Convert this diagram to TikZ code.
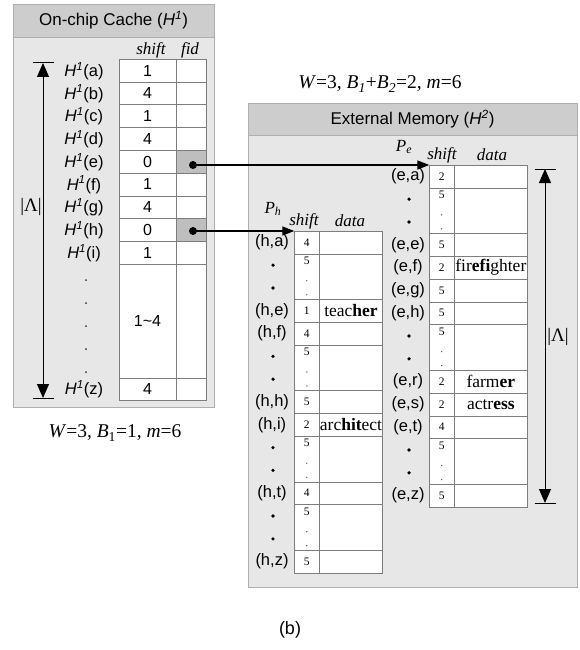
\documentclass[tikz,border=0pt]{standalone}
\usepackage{fontspec}
\setmainfont{Liberation Serif}
\setsansfont{Liberation Sans}
\usetikzlibrary{arrows.meta}
\definecolor{panelbg}{RGB}{231,231,231}
\definecolor{panelhd}{RGB}{205,205,205}
\definecolor{panelln}{RGB}{175,175,175}
\definecolor{tabln}{RGB}{125,125,125}
\definecolor{cellgray}{RGB}{190,190,190}
\newcommand\rh{22.8}
\newcommand\trow[4]{%
 \pgfmathsetmacro\yt{\tT+#1*\rh}%
 \pgfmathsetmacro\yc{\yt+\rh/2}%
 \node[lab] (\tP l#1) at (\tLab,\yc) {#2};%
 \node[scell, minimum width=\wS pt, minimum height=\rh pt] (\tP s#1) at (\tL,\yt) {#3};%
 \node[dcell, minimum width=\wD pt, minimum height=\rh pt] (\tP d#1) at (\tM,\yt) {#4};%
}
\newcommand\tmulti[1]{%
 \pgfmathsetmacro\yt{\tT+#1*\rh}%
 \node[scell, minimum width=\wS pt, minimum height=2*\rh pt] (\tP s#1) at (\tL,\yt) {};%
 \node[dcell, minimum width=\wD pt, minimum height=2*\rh pt] (\tP d#1) at (\tM,\yt) {};%
 \node[bulletdot] (\tP a#1) at (\tLab+1,\yt+\rh/2) {};%
 \node[bulletdot] (\tP b#1) at (\tLab+1,\yt+1.5*\rh) {};%
 \node[sval] (\tP f#1) at (\tL+\wS/2,\yt+7) {5};%
 \node[tinydot] (\tP g#1) at (\tL+\wS/2,\yt+27) {};%
 \node[tinydot] (\tP h#1) at (\tL+\wS/2,\yt+41) {};%
}
\tikzset{
 panel/.style={fill=panelbg, draw=panelln, line width=0.8pt, inner sep=0pt, outer sep=0pt, anchor=north west},
 phead/.style={fill=panelhd, draw=panelln, line width=0.8pt, inner sep=0pt, outer sep=0pt, anchor=north west,
   font=\sffamily\fontsize{17}{20}\selectfont},
 lab/.style={font=\sffamily\fontsize{16.5}{19}\selectfont, inner sep=0pt},
 colhd/.style={font=\itshape\fontsize{17}{20}\selectfont, inner sep=0pt},
 wlab/.style={font=\fontsize{19.5}{22}\selectfont, inner sep=0pt},
 lamlab/.style={font=\fontsize{19}{22}\selectfont, inner sep=0pt},
 lcell/.style={draw=tabln, fill=white, line width=0.6pt, inner sep=0pt, outer sep=0pt, anchor=north west,
   font=\sffamily\fontsize{16}{18}\selectfont},
 scell/.style={draw=tabln, fill=white, line width=0.6pt, inner sep=0pt, outer sep=0pt, anchor=north west,
   font=\fontsize{11.5}{13}\selectfont},
 dcell/.style={draw=tabln, fill=white, line width=0.6pt, inner sep=0pt, outer sep=0pt, anchor=north west,
   font=\fontsize{17.5}{20}\selectfont},
 sval/.style={font=\fontsize{11.5}{13}\selectfont, inner sep=0pt},
 bulletdot/.style={circle, fill=black, inner sep=0pt, minimum size=3.6pt},
 tinydot/.style={circle, fill=black!70, inner sep=0pt, minimum size=1.4pt},
 ldot/.style={circle, fill=black!80, inner sep=0pt, minimum size=2pt},
 bigdot/.style={circle, fill=black, inner sep=0pt, minimum size=8pt},
 conn/.style={line width=1.3pt, -{Triangle[length=12pt,width=9pt]}},
 dimline/.style={line width=1pt, {Triangle[length=14pt,width=12pt]}-{Triangle[length=14pt,width=12pt]}},
 barline/.style={line width=1pt},
}
\begin{document}
\begin{tikzpicture}[x=1pt,y=-1pt]
\useasboundingbox (0,0) rectangle (579,650);
\fill[white] (0,0) rectangle (579,650);
% ---------------- left panel ----------------
\node[panel, minimum width=201pt, minimum height=403pt] (LP) at (13,4) {};
\node[phead, minimum width=201pt, minimum height=33pt] (LH) at (13,4) {On-chip Cache ({\itshape H}\textsuperscript{\itshape 1})};
\node[colhd] (lhs) at (151,50) {shift};
\node[colhd] (lhf) at (190,50) {fid};
\foreach \lab/\val [count=\r from 0] in {a/1,b/4,c/1,d/4,e/0,f/1,g/4,h/0,i/1}{
  \pgfmathsetmacro\yt{59.3+\r*22.75}
  \node[lcell, minimum width=57pt, minimum height=22.75pt] (ls\lab) at (119,\yt) {\val};
  \node[lcell, minimum width=30pt, minimum height=22.75pt] (lf\lab) at (176,\yt) {};
  \node[lab] (ll\lab) at (84,\yt+11.6) {{\itshape H}\textsuperscript{\itshape 1}(\lab)};
}
\filldraw[fill=cellgray, draw=tabln, line width=0.6pt] (lfe.north west) rectangle (lfe.south east);
\filldraw[fill=cellgray, draw=tabln, line width=0.6pt] (lfh.north west) rectangle (lfh.south east);
\node[lcell, minimum width=57pt, minimum height=113.75pt] (lsm) at (119,264.05) {1\textasciitilde 4};
\node[lcell, minimum width=30pt, minimum height=113.75pt] (lfm) at (176,264.05) {};
\foreach \k in {0,...,4}{
  \node[ldot] (lp\k) at (86,280+\k*23) {};
}
\node[lcell, minimum width=57pt, minimum height=22.75pt] (lsz) at (119,377.8) {4};
\node[lcell, minimum width=30pt, minimum height=22.75pt] (lfz) at (176,377.8) {};
\node[lab] (llz) at (84,389.4) {{\itshape H}\textsuperscript{\itshape 1}(z)};
% left dimension
\coordinate (lt) at (43,63);
\coordinate (lb) at (43,398);
\draw[dimline] (lt) -- (lb);
\draw[barline] ([xshift=-10.5pt]lt) -- ([xshift=10.5pt]lt);
\draw[barline] ([xshift=-10.5pt]lb) -- ([xshift=10.5pt]lb);
\node[lamlab] (llam) at (31,207) {|Λ|};
\node[wlab] (wbot) at (115,433) {\textit{W}=3, \textit{B}\textsubscript{1}=1, \textit{m}=6};
% ---------------- right panel ----------------
\node[wlab] (wtop) at (380,84) {\textit{W}=3, \textit{B}\textsubscript{\textit{1}}+\textit{B}\textsubscript{\textit{2}}=2, \textit{m}=6};
\node[panel, minimum width=329pt, minimum height=484pt] (RP) at (248,103) {};
\node[phead, minimum width=329pt, minimum height=32pt] (RH) at (248,103) {External Memory ({\itshape H}\textsuperscript{\itshape 2})};
% Pe table
\def\tP{e}\def\tL{429.3}\def\tM{454}\def\tR{527.7}\def\tT{165}\def\tLab{408}
\pgfmathsetmacro\wS{\tM-\tL}\pgfmathsetmacro\wD{\tR-\tM}
\node[colhd] (pe) at (404,147) {\textit{P}\textsubscript{\textit{e}}};
\node[colhd] (pes) at (442,155) {shift};
\node[colhd] (ped) at (492,155) {data};
\trow{0}{(e,a)}{2}{}
\tmulti{1}
\trow{3}{(e,e)}{5}{}
\trow{4}{(e,f)}{2}{fir\textbf{efi}ghter}
\trow{5}{(e,g)}{5}{}
\trow{6}{(e,h)}{5}{}
\tmulti{7}
\trow{9}{(e,r)}{2}{farm\textbf{er}}
\trow{10}{(e,s)}{2}{actr\textbf{ess}}
\trow{11}{(e,t)}{4}{}
\tmulti{12}
\trow{14}{(e,z)}{5}{}
% Ph table
\def\tP{h}\def\tL{294.3}\def\tM{319.3}\def\tR{382.7}\def\tT{231}\def\tLab{272}
\pgfmathsetmacro\wS{\tM-\tL}\pgfmathsetmacro\wD{\tR-\tM}
\node[colhd] (ph) at (273,209) {\textit{P}\textsubscript{\textit{h}}};
\node[colhd] (phs) at (304,221) {shift};
\node[colhd] (phd) at (350,221) {data};
\trow{0}{(h,a)}{4}{}
\tmulti{1}
\trow{3}{(h,e)}{1}{teac\textbf{her}}
\trow{4}{(h,f)}{4}{}
\tmulti{5}
\trow{7}{(h,h)}{5}{}
\trow{8}{(h,i)}{2}{arc\textbf{hit}ect}
\tmulti{9}
\trow{11}{(h,t)}{4}{}
\tmulti{12}
\trow{14}{(h,z)}{5}{}
% right dimension
\coordinate (rt) at (545,169);
\coordinate (rb) at (545,503);
\draw[dimline] (rt) -- (rb);
\draw[barline] ([xshift=-10.5pt]rt) -- ([xshift=10.5pt]rt);
\draw[barline] ([xshift=-10.5pt]rb) -- ([xshift=10.5pt]rb);
\node[lamlab] (rlam) at (558,337) {|Λ|};
% connectors
\node[bigdot] (de) at (193,165) {};
\node[bigdot] (dh) at (193,231) {};
\draw[conn] (de.center) -- (es0.north west);
\draw[conn] (dh.center) -- (hs0.north west);
\node[font=\sffamily\fontsize{18}{21}\selectfont, inner sep=0pt] (cap) at (290,630) {(b)};
\end{tikzpicture}
\end{document}
